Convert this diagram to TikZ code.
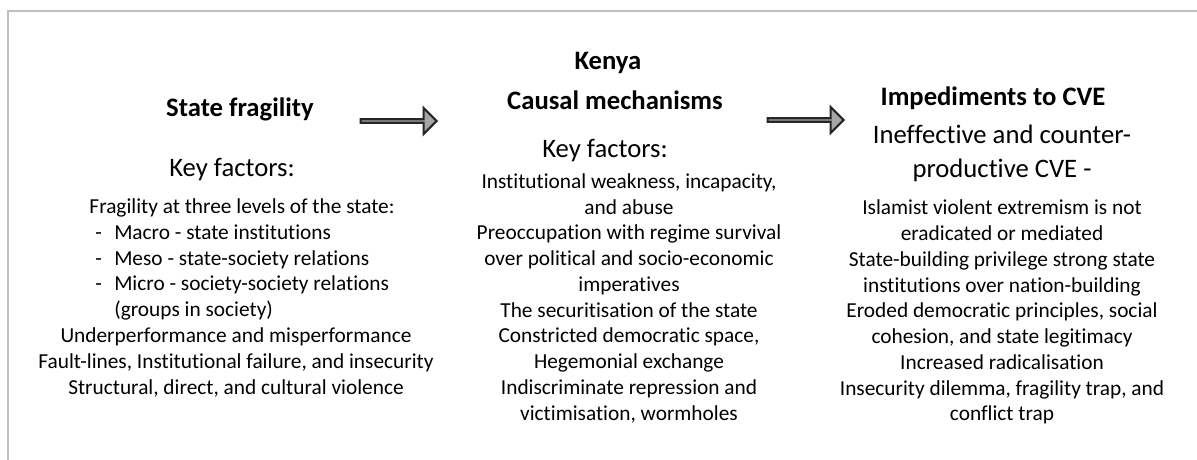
\documentclass[tikz,border=0pt]{standalone}
\usepackage{fontspec}
\setmainfont{Carlito}[Ligatures=NoCommon]
\usetikzlibrary{shapes.arrows}
\definecolor{framegray}{HTML}{BFBFBF}
\definecolor{arrowgray}{HTML}{A6A6A6}
\newcommand{\listdash}{\makebox[14.25pt][l]{-}}

\begin{document}
\begin{tikzpicture}[x=0.75pt,y=-0.75pt,
    head/.style={font=\fontsize{20}{25.5}\selectfont\bfseries, inner sep=0, anchor=base},
    sub/.style={font=\fontsize{20}{25.5}\selectfont, inner sep=0, anchor=base, align=center},
    body/.style={font=\fontsize{16}{19.3}\selectfont, inner sep=0, anchor=base, align=center},
    flow/.style={single arrow, draw=black!85, fill=arrowgray, line width=1.6pt,
      minimum height=57pt, minimum width=19.5pt, single arrow head extend=5.25pt,
      single arrow tip angle=90, inner sep=0, anchor=tail}]
    \useasboundingbox (0,0) rectangle (1197,460);
    \draw[framegray, line width=1.5pt] (8,460) -- (8,11) -- (1197,11);

    % state fragility (multi-line nodes sit on their last baseline)
    \node[head] (fragTitle) at (240,117) {State fragility};
    \node[sub] (fragKey) at (232,176) {Key factors:};
    \node[body] (fragLevels) at (242,214) {Fragility at three levels of the state:};
    \node[body, align=left, anchor=base west] (fragList) at (95,316.6) {\listdash Macro - state institutions\\
      \listdash Meso - state-society relations\\
      \listdash Micro - society-society relations\\
      \hspace*{14.25pt}(groups in society)};
    \node[body] (fragMore) at (236,394.4) {Underperformance and misperformance\\
      Fault-lines, Institutional failure, and insecurity\\
      Structural, direct, and cultural violence};

    \node[flow] (arrowA) at (359.5,121) {};

    % kenya
    \node[head] (midCountry) at (608,70) {Kenya};
    \node[head] (midTitle) at (615,110) {Causal mechanisms};
    \node[sub] (midKey) at (605,157) {Key factors:};
    \node[body] (midList) at (629,420) {Institutional weakness, incapacity,\\and abuse\\
      Preoccupation with regime survival\\over political and socio-economic\\imperatives\\
      The securitisation of the state\\Constricted democratic space,\\Hegemonial exchange\\
      Indiscriminate repression and\\victimisation, wormholes};

    \node[flow] (arrowB) at (766.5,120) {};

    % impediments
    \node[head] (cveTitle) at (993,106) {Impediments to CVE};
    \node[sub] (cveSub) at (1002,177) {Ineffective and counter-\\productive CVE -};
    \node[body] (cveList) at (1002,420.8) {Islamist violent extremism is not\\eradicated or mediated\\
      State-building privilege strong state\\institutions over nation-building\\
      Eroded democratic principles, social\\cohesion, and state legitimacy\\
      Increased radicalisation\\Insecurity dilemma, fragility trap, and\\conflict trap};
  \end{tikzpicture}
\end{document}
